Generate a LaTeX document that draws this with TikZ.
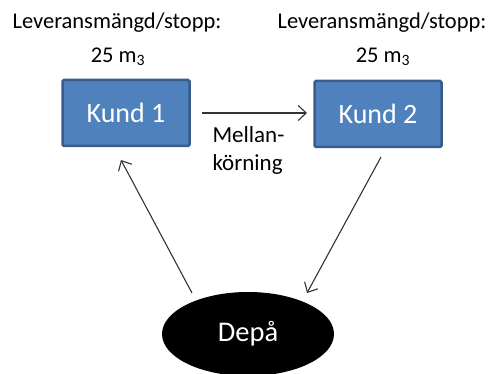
\documentclass[tikz,border=0pt]{standalone}
\usepackage{fontspec}
\setmainfont{Carlito}
\usetikzlibrary{arrows.meta,shapes.geometric}
\definecolor{boxfill}{HTML}{4F81BD}
\definecolor{boxline}{HTML}{385D8A}
\definecolor{arrowc}{HTML}{333333}
\tikzset{
  kund/.style={draw=boxline, line width=2.5pt, fill=boxfill, rounded corners=1.5pt,
    minimum width=127pt, minimum height=66pt, text=white, font=\fontsize{28}{32}\selectfont},
  lbl/.style={font=\fontsize{22.5}{27}\selectfont, text=black, align=center},
  conn/.style={draw=arrowc, line width=1.1pt, -{Straight Barb[length=8pt,width=15pt]}}
}
\begin{document}
\begin{tikzpicture}[x=1pt,y=-1pt]
\useasboundingbox (0,0) rectangle (492,374);
\node[kund] (k1) at (126,113) {Kund 1};
\node[kund] (k2) at (378,114) {Kund 2};
\node[ellipse, fill=black, minimum width=172pt, minimum height=84pt, text=white,
  font=\fontsize{28.5}{33}\selectfont] (d) at (248,334) {Depå};
\node[lbl] (l1) at (117,23) {Leveransmängd/stopp:};
\node[lbl] (m1) at (118,57) {25 m\textsubscript{3}};
\node[lbl] (l2) at (382,23) {Leveransmängd/stopp:};
\node[lbl] (m2) at (383,57) {25 m\textsubscript{3}};
\node[lbl, align=left, anchor=west, font=\fontsize{23}{28}\selectfont] (mk) at (209,150) {Mellan-\\körning};
\coordinate (a1) at (202,113);
\coordinate (a2) at (307,113);
\draw[conn] (a1) -- (a2);
\coordinate (b1) at (192,293);
\coordinate (b2) at (121,160);
\draw[conn] (b1) -- (b2);
\coordinate (c1) at (381,157);
\coordinate (c2) at (307,293);
\draw[conn] (c1) -- (c2);
\end{tikzpicture}
\end{document}
